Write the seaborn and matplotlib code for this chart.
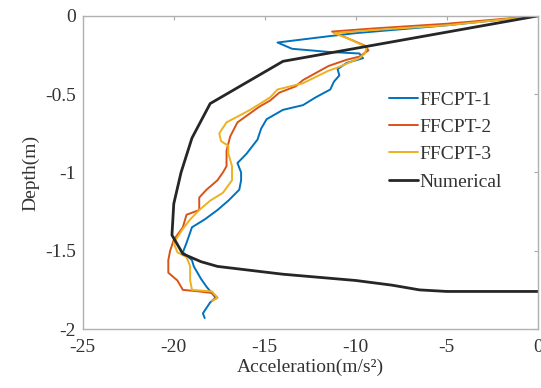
import numpy as np
import pandas as pd
import matplotlib
matplotlib.use('Agg')
import matplotlib.pyplot as plt
import seaborn as sns

sns.set_theme(style='white')
plt.rcParams['font.family'] = ['Liberation Serif', 'DejaVu Serif']

# acceleration (m/s^2) and depth (m)
ffcpt1_acc = [0, -5, -10, -11.5, -14.3, -13.5, -11.5, -9.8, -9.6, -10.5, -11.0, -10.9, -11.2, -11.4,
              -12.2, -12.9, -14.0, -14.9, -15.2, -15.4, -16.0, -16.5, -16.3, -16.3, -16.4, -17.0,
              -17.6, -18.3, -19.0, -19.3, -19.5, -19.0, -18.9, -18.7, -18.5, -18.2, -17.7, -18.0,
              -18.4, -18.3]
ffcpt1_depth = [0, -0.06, -0.11, -0.13, -0.17, -0.21, -0.23, -0.24, -0.27, -0.30, -0.34, -0.38, -0.42,
                -0.47, -0.52, -0.57, -0.60, -0.66, -0.72, -0.79, -0.88, -0.94, -1.0, -1.05, -1.11,
                -1.18, -1.24, -1.30, -1.35, -1.45, -1.51, -1.56, -1.60, -1.64, -1.68, -1.73, -1.80,
                -1.83, -1.90, -1.93]

ffcpt2_acc = [0, -5, -9, -11.3, -10.5, -9.5, -9.3, -9.8, -10.5, -11.5, -12.9, -13.3, -14.2, -14.7,
              -15.3, -16.5, -16.9, -17.1, -17.1, -17.3, -17.6, -18.2, -18.6, -18.6, -19.3, -19.5,
              -20.0, -20.2, -20.3, -20.3, -19.8, -19.5, -18.6, -17.9, -17.6, -17.9]
ffcpt2_depth = [0, -0.05, -0.08, -0.10, -0.14, -0.19, -0.22, -0.26, -0.28, -0.32, -0.41, -0.45, -0.49,
                -0.54, -0.58, -0.68, -0.77, -0.86, -0.96, -1.0, -1.05, -1.11, -1.16, -1.24, -1.27,
                -1.35, -1.43, -1.50, -1.56, -1.64, -1.69, -1.75, -1.76, -1.77, -1.80, -1.82]

ffcpt3_acc = [0, -5, -9, -11.2, -10.3, -9.4, -9.5, -9.8, -11.0, -11.5, -12.9, -13.6, -14.3, -14.7,
              -15.8, -17.1, -17.5, -17.4, -17.0, -17.0, -16.8, -16.8, -17.3, -18.0, -18.6, -19.1,
              -19.5, -20.0, -19.8, -19.3, -19.1, -19.1, -19.0, -17.9, -17.6, -17.9]
ffcpt3_depth = [0, -0.06, -0.09, -0.11, -0.15, -0.20, -0.24, -0.27, -0.33, -0.35, -0.43, -0.45, -0.47,
                -0.52, -0.60, -0.68, -0.75, -0.80, -0.83, -0.88, -0.96, -1.05, -1.13, -1.18, -1.24,
                -1.30, -1.36, -1.45, -1.51, -1.54, -1.60, -1.69, -1.75, -1.76, -1.80, -1.82]

num_acc = [0, -14.0, -18.0, -19.0, -19.6, -20.0, -20.1, -19.5, -18.5, -17.6, -14.0, -10.0, -8.0,
           -6.5, -5.0, 0]
num_depth = [0, -0.29, -0.56, -0.78, -1.0, -1.2, -1.4, -1.52, -1.57, -1.60, -1.65, -1.69, -1.72,
             -1.75, -1.76, -1.76]

series = ['FFCPT-1', 'FFCPT-2', 'FFCPT-3', 'Numerical']
x_ticks = [-25, -20, -15, -10, -5, 0]
y_ticks = [0, -0.5, -1, -1.5, -2]
y_tick_labels = ['0', '-0.5', '-1', '-1.5', '-2']

frames = []
for name, acc, dep in zip(series,
                          [ffcpt1_acc, ffcpt2_acc, ffcpt3_acc, num_acc],
                          [ffcpt1_depth, ffcpt2_depth, ffcpt3_depth, num_depth]):
    frames.append(pd.DataFrame({'acc': acc, 'depth': dep, 'series': name}))
df = pd.concat(frames, ignore_index=True)

palette = {'FFCPT-1': '#0072BD', 'FFCPT-2': '#D95319', 'FFCPT-3': '#EDB120', 'Numerical': '#262626'}
sizes = {'FFCPT-1': 1.4, 'FFCPT-2': 1.4, 'FFCPT-3': 1.4, 'Numerical': 2.0}

fig = plt.figure(figsize=(5.41, 3.88), dpi=100)
ax = fig.add_axes([0.153, 0.152, 0.841, 0.807])
sns.lineplot(data=df, x='acc', y='depth', hue='series', hue_order=series, palette=palette,
             size='series', sizes=sizes, size_order=series,
             sort=False, estimator=None, units='series', ax=ax)

ax.set_xlim(-25, 0)
ax.set_ylim(-2, 0)
ax.set_xticks(x_ticks)
ax.set_yticks(y_ticks)
ax.set_xticklabels([str(t) for t in x_ticks])
ax.set_yticklabels(y_tick_labels)
ax.tick_params(direction='in', length=3, width=0.8, color='#a8a8a8', labelsize=14,
               labelcolor='#333333', top=True, right=True)
ax.tick_params(axis='x', pad=7)
ax.tick_params(axis='y', pad=5)
for s in ax.spines.values():
    s.set_color('#b0b0b0')
    s.set_linewidth(1.0)
ax.set_xlabel('Acceleration(m/s²)', fontsize=14, color='#333333', labelpad=2)
ax.set_ylabel('Depth(m)', fontsize=14, color='#333333', labelpad=4)

handles, labels = ax.get_legend_handles_labels()
leg = ax.legend(handles[:4], labels[:4], loc='upper left', bbox_to_anchor=(0.655, 0.785),
                frameon=False, fontsize=14, handlelength=1.5, handletextpad=0.1,
                labelspacing=0.5, borderaxespad=0)
for t in leg.get_texts():
    t.set_color('#333333')

fig.savefig('out.png', dpi=100)
